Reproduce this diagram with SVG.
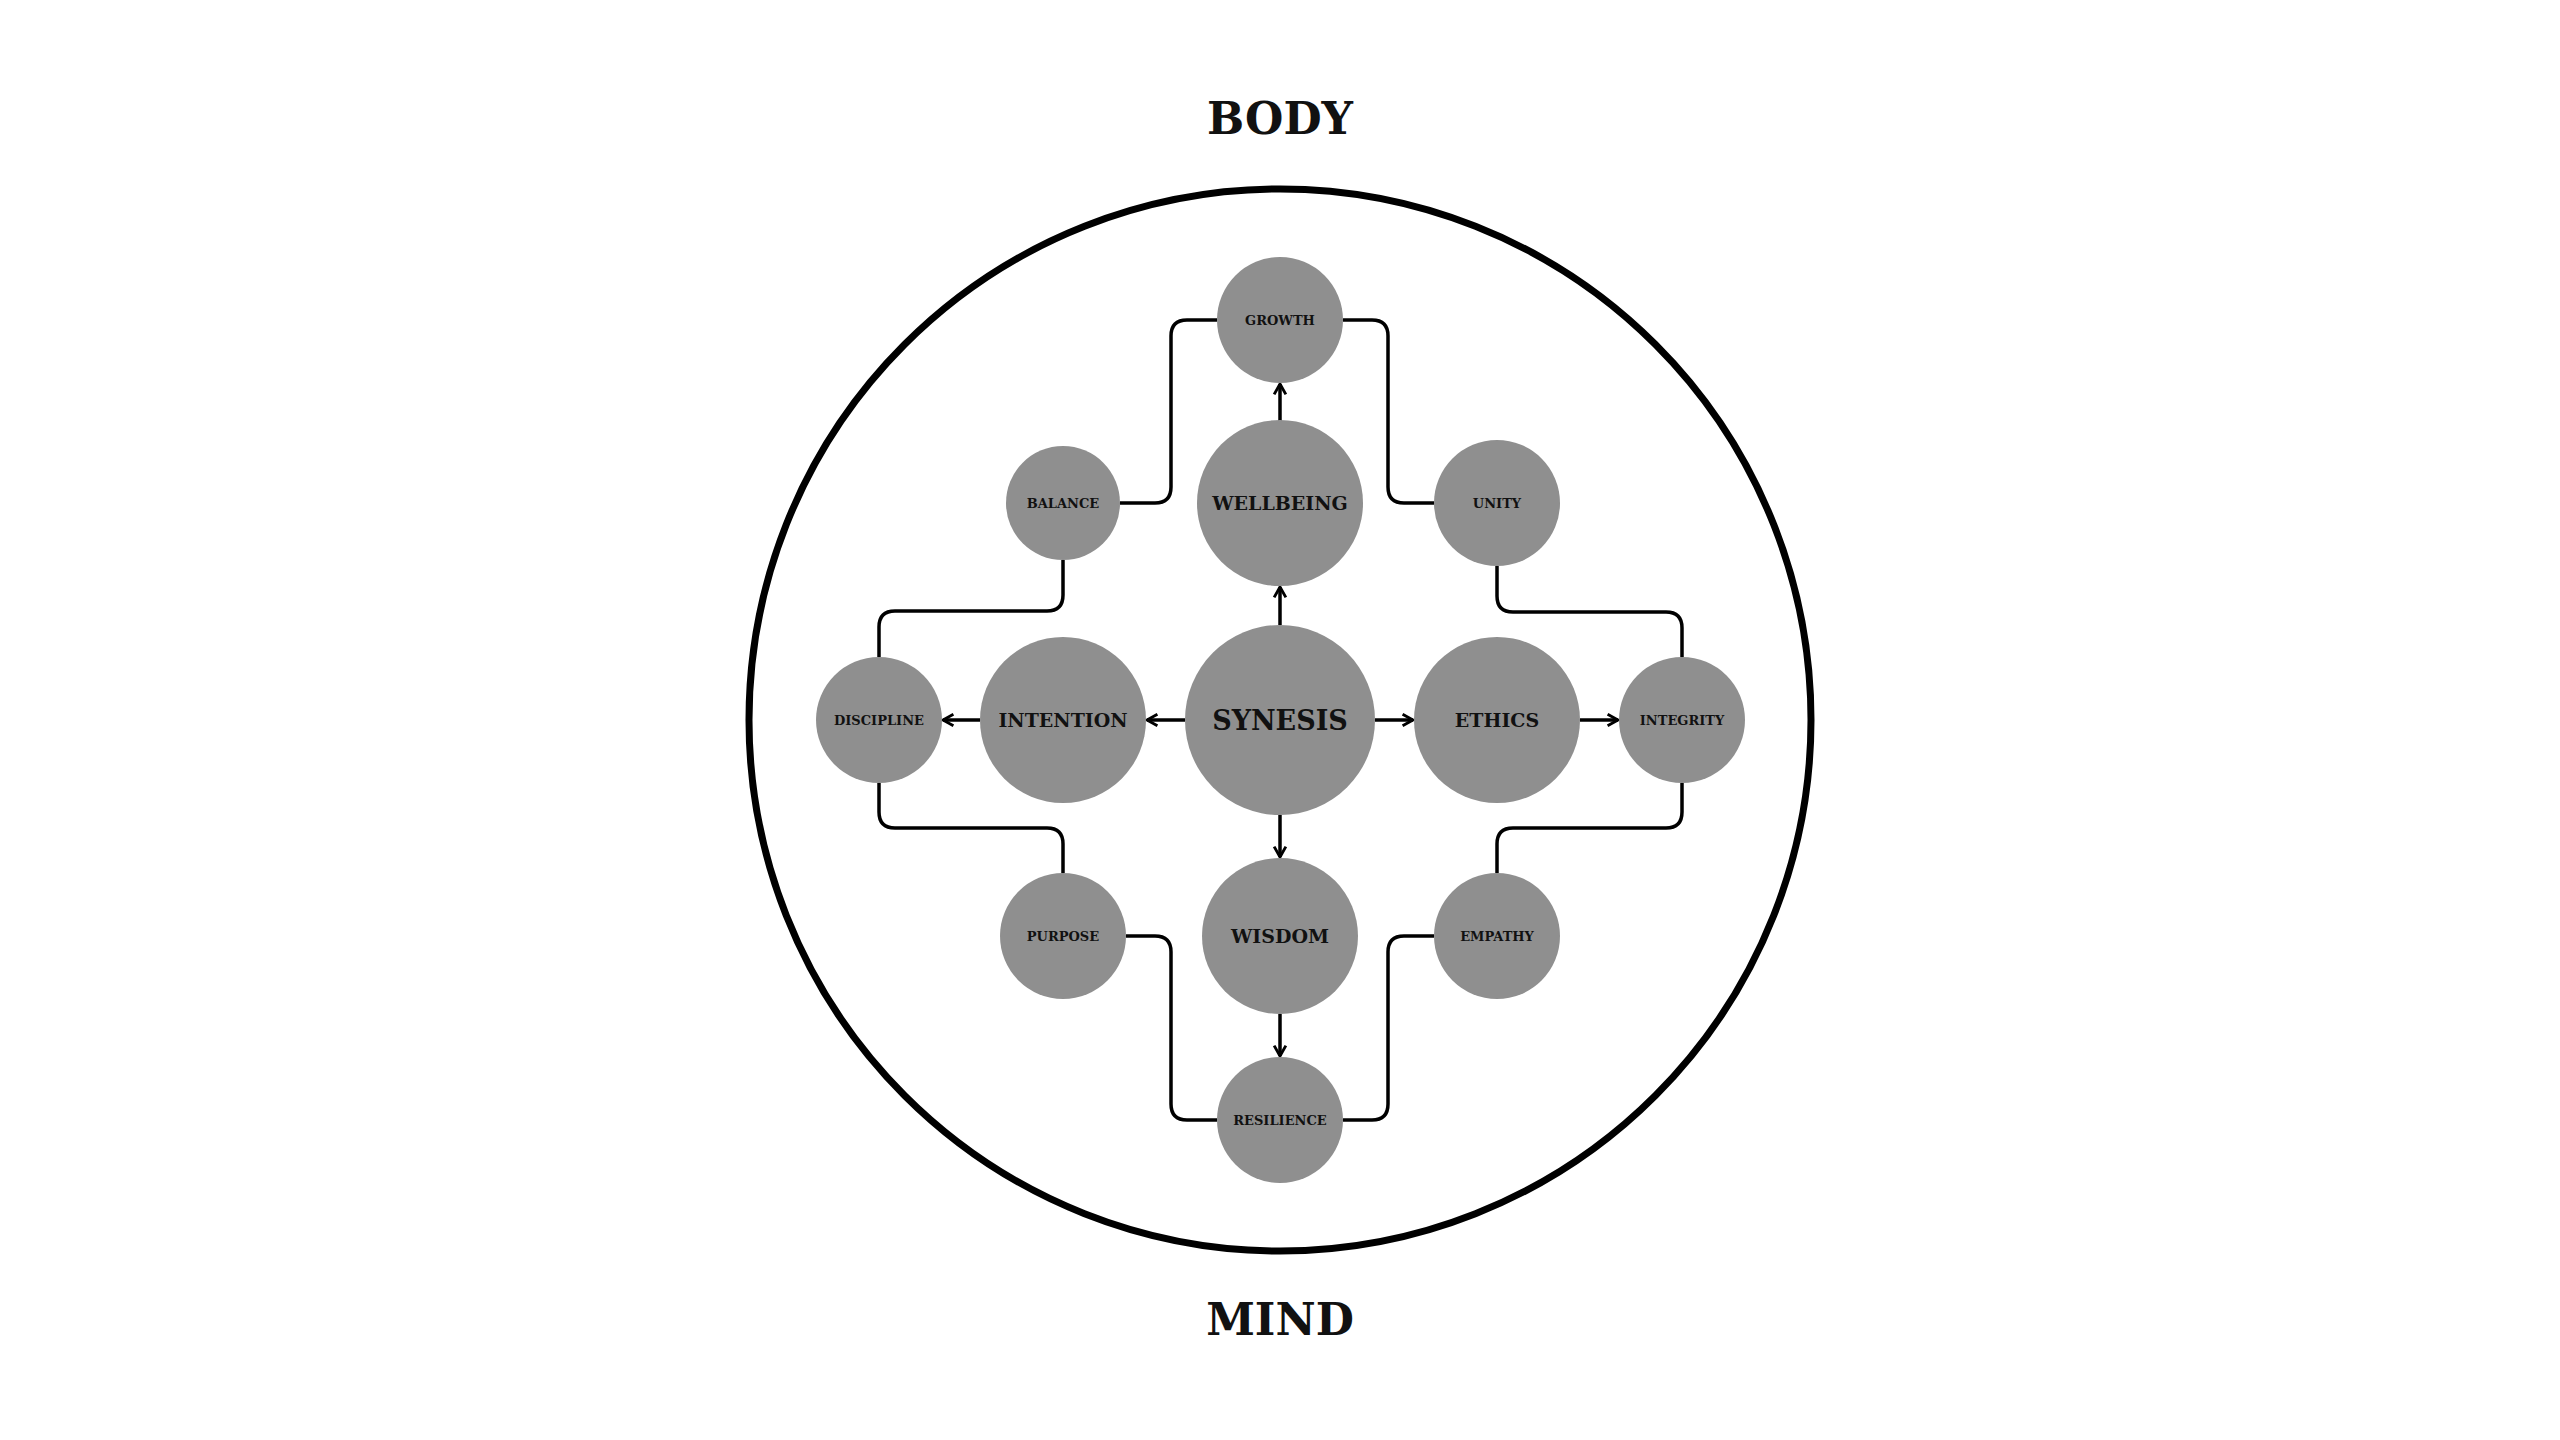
<svg xmlns="http://www.w3.org/2000/svg" width="2560" height="1440" viewBox="0 0 2560 1440">
<style>
.n{fill:#8f8f8f}
text{font-family:"DejaVu Serif",serif;font-weight:bold;fill:#111;text-anchor:middle;dominant-baseline:central}
.c{fill:none;stroke:#000;stroke-width:3.5;stroke-linejoin:round}
.s{font-size:13px}.m{font-size:19px}.l{font-size:27px}.t{font-size:44px}
</style>
<defs><marker id="a" viewBox="0 0 10 10" refX="9" refY="5" markerWidth="13" markerHeight="14" orient="auto" markerUnits="userSpaceOnUse" style="overflow:visible"><path d="M1,0.5 L9,5 L1,9.5" fill="none" stroke="#000" stroke-width="2.2"/></marker></defs>
<rect width="2560" height="1440" fill="#fff"/>
<text class="t" x="1280" y="118">BODY</text>
<text class="t" x="1280" y="1319">MIND</text>
<circle cx="1280" cy="720" r="531" fill="none" stroke="#000" stroke-width="7"/>
<g id="connectors">
<path class="c" d="M1280,625 V587" marker-end="url(#a)"/>
<path class="c" d="M1280,421 V384" marker-end="url(#a)"/>
<path class="c" d="M1185,720 H1147" marker-end="url(#a)"/>
<path class="c" d="M980,720 H943" marker-end="url(#a)"/>
<path class="c" d="M1375,720 H1413" marker-end="url(#a)"/>
<path class="c" d="M1580,720 H1618" marker-end="url(#a)"/>
<path class="c" d="M1280,815 V857" marker-end="url(#a)"/>
<path class="c" d="M1280,1014 V1056" marker-end="url(#a)"/>
<path class="c" d="M1217,320 H1187 Q1171,320 1171,336 V487 Q1171,503 1155,503 H1120"/>
<path class="c" d="M1343,320 H1372 Q1388,320 1388,336 V487 Q1388,503 1404,503 H1434"/>
<path class="c" d="M1063,560 V595 Q1063,611 1047,611 H895 Q879,611 879,627 V657"/>
<path class="c" d="M1497,566 V596 Q1497,612 1513,612 H1666 Q1682,612 1682,628 V657"/>
<path class="c" d="M879,783 V812 Q879,828 895,828 H1047 Q1063,828 1063,844 V873"/>
<path class="c" d="M1682,783 V812 Q1682,828 1666,828 H1513 Q1497,828 1497,844 V873"/>
<path class="c" d="M1126,936 H1155 Q1171,936 1171,952 V1104 Q1171,1120 1187,1120 H1217"/>
<path class="c" d="M1434,936 H1404 Q1388,936 1388,952 V1104 Q1388,1120 1372,1120 H1343"/>
</g>
<g id="synesis"><circle class="n" cx="1280" cy="720" r="95"/><text class="l" x="1280" y="720">SYNESIS</text></g>
<g id="wellbeing"><circle class="n" cx="1280" cy="503" r="83"/><text class="m" x="1280" y="503">WELLBEING</text></g>
<g id="growth"><circle class="n" cx="1280" cy="320" r="63"/><text class="s" x="1280" y="320">GROWTH</text></g>
<g id="balance"><circle class="n" cx="1063" cy="503" r="57"/><text class="s" x="1063" y="503">BALANCE</text></g>
<g id="unity"><circle class="n" cx="1497" cy="503" r="63"/><text class="s" x="1497" y="503">UNITY</text></g>
<g id="intention"><circle class="n" cx="1063" cy="720" r="83"/><text class="m" x="1063" y="720">INTENTION</text></g>
<g id="ethics"><circle class="n" cx="1497" cy="720" r="83"/><text class="m" x="1497" y="720">ETHICS</text></g>
<g id="discipline"><circle class="n" cx="879" cy="720" r="63"/><text class="s" x="879" y="720">DISCIPLINE</text></g>
<g id="integrity"><circle class="n" cx="1682" cy="720" r="63"/><text class="s" x="1682" y="720">INTEGRITY</text></g>
<g id="wisdom"><circle class="n" cx="1280" cy="936" r="78"/><text class="m" x="1280" y="936">WISDOM</text></g>
<g id="purpose"><circle class="n" cx="1063" cy="936" r="63"/><text class="s" x="1063" y="936">PURPOSE</text></g>
<g id="empathy"><circle class="n" cx="1497" cy="936" r="63"/><text class="s" x="1497" y="936">EMPATHY</text></g>
<g id="resilience"><circle class="n" cx="1280" cy="1120" r="63"/><text class="s" x="1280" y="1120">RESILIENCE</text></g>
</svg>
